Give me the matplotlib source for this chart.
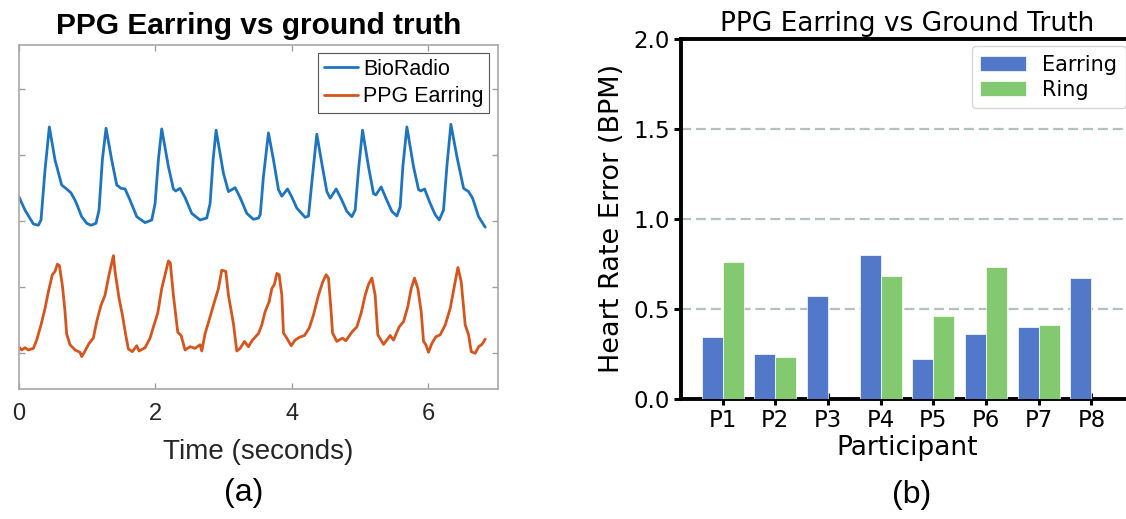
import matplotlib
matplotlib.use("Agg")
import matplotlib.pyplot as plt
import numpy as np

# ---------------- Panel (a) data: waveforms ----------------
bio_t = [0.00, 0.092, 0.215, 0.288, 0.327, 0.386, 0.449, 0.532, 0.630, 0.703, 0.767, 0.835,
         0.923, 0.997, 1.060, 1.133, 1.177, 1.226, 1.280, 1.363, 1.437, 1.500, 1.559, 1.632,
         1.730, 1.852, 1.950, 1.999, 2.047, 2.096, 2.194, 2.267, 2.302, 2.365, 2.438, 2.536,
         2.658, 2.756, 2.805, 2.849, 2.893, 3.000, 3.074, 3.172, 3.245, 3.343, 3.440, 3.514,
         3.540, 3.587, 3.660, 3.734, 3.807, 3.856, 3.939, 4.002, 4.076, 4.198, 4.247, 4.305,
         4.369, 4.442, 4.516, 4.565, 4.653, 4.736, 4.809, 4.882, 4.931, 4.980, 5.039, 5.126,
         5.200, 5.234, 5.312, 5.395, 5.469, 5.542, 5.591, 5.630, 5.689, 5.786, 5.860, 5.894,
         5.948, 6.031, 6.104, 6.163, 6.226, 6.275, 6.334, 6.422, 6.520, 6.593, 6.652, 6.740,
         6.837]
bio_y = [2.38, 2.17, 1.96, 1.94, 2.02, 2.78, 3.43, 2.93, 2.55, 2.49, 2.43, 2.30,
         2.07, 1.97, 1.94, 1.97, 2.17, 2.93, 3.41, 2.93, 2.55, 2.50, 2.49, 2.32,
         2.07, 1.98, 2.02, 2.27, 2.93, 3.40, 2.83, 2.49, 2.46, 2.50, 2.36, 2.12,
         2.02, 2.05, 2.27, 2.93, 3.38, 2.73, 2.45, 2.51, 2.36, 2.12, 2.03, 2.05,
         2.10, 2.68, 3.34, 2.93, 2.48, 2.38, 2.49, 2.37, 2.20, 2.06, 2.08, 2.68,
         3.32, 2.88, 2.45, 2.35, 2.49, 2.32, 2.15, 2.07, 2.17, 2.78, 3.38, 2.83,
         2.42, 2.40, 2.52, 2.32, 2.15, 2.08, 2.22, 2.83, 3.43, 2.83, 2.48, 2.46,
         2.49, 2.27, 2.10, 2.02, 2.17, 2.83, 3.47, 2.98, 2.50, 2.45, 2.35, 2.07,
         1.91]

ear_t = [0.000, 0.044, 0.092, 0.141, 0.215, 0.263, 0.327, 0.386, 0.434, 0.493, 0.532, 0.566,
         0.596, 0.640, 0.679, 0.703, 0.752, 0.826, 0.899, 0.923, 0.972, 1.031, 1.094, 1.143,
         1.207, 1.265, 1.324, 1.388, 1.412, 1.471, 1.520, 1.568, 1.607, 1.666, 1.730, 1.764,
         1.852, 1.925, 1.974, 2.038, 2.096, 2.145, 2.194, 2.222, 2.267, 2.331, 2.380, 2.438,
         2.512, 2.585, 2.658, 2.683, 2.732, 2.790, 2.854, 2.927, 2.976, 3.035, 3.074, 3.147,
         3.196, 3.245, 3.308, 3.367, 3.426, 3.514, 3.563, 3.611, 3.670, 3.709, 3.748, 3.783,
         3.817, 3.856, 3.880, 3.929, 3.993, 4.051, 4.110, 4.188, 4.257, 4.320, 4.393, 4.457,
         4.506, 4.540, 4.579, 4.599, 4.662, 4.745, 4.794, 4.882, 4.956, 5.019, 5.078, 5.127,
         5.176, 5.224, 5.263, 5.347, 5.444, 5.493, 5.576, 5.640, 5.703, 5.752, 5.801, 5.850,
         5.899, 5.933, 5.967, 6.006, 6.055, 6.114, 6.177, 6.251, 6.324, 6.388, 6.437, 6.485,
         6.544, 6.593, 6.632, 6.691, 6.740, 6.789, 6.837]
ear_y = [0.10, 0.05, 0.085, 0.05, 0.075, 0.20, 0.43, 0.68, 0.93, 1.19, 1.24, 1.35,
         1.33, 1.03, 0.63, 0.29, 0.13, 0.05, 0.015, -0.05, 0.035, 0.15, 0.23, 0.48,
         0.73, 0.88, 1.19, 1.48, 1.24, 0.83, 0.58, 0.28, 0.065, 0.025, 0.115, 0.035,
         0.085, 0.23, 0.40, 0.61, 0.98, 1.19, 1.40, 1.37, 0.88, 0.32, 0.27, 0.05,
         0.10, 0.075, 0.13, 0.035, 0.30, 0.50, 0.73, 0.98, 1.26, 1.24, 0.88, 0.45,
         0.035, 0.075, 0.18, 0.10, 0.20, 0.30, 0.43, 0.63, 0.78, 0.98, 1.045, 1.21,
         1.19, 0.88, 0.31, 0.23, 0.115, 0.20, 0.24, 0.27, 0.38, 0.58, 0.88, 1.085,
         1.19, 1.14, 0.63, 0.31, 0.18, 0.23, 0.19, 0.32, 0.40, 0.61, 0.88, 1.045,
         1.14, 0.88, 0.28, 0.135, 0.27, 0.20, 0.40, 0.48, 0.71, 0.98, 1.14, 0.98,
         0.63, 0.18, 0.13, 0.015, 0.15, 0.25, 0.28, 0.43, 0.68, 1.035, 1.30, 1.085,
         0.43, 0.28, 0.025, 0.00, 0.10, 0.135, 0.215]

series_a = ["BioRadio", "PPG Earring"]
xticks_a = [0, 2, 4, 6]

# ---------------- Panel (b) data ----------------
participants = ["P1", "P2", "P3", "P4", "P5", "P6", "P7", "P8"]
earring_err = [0.34, 0.25, 0.57, 0.80, 0.22, 0.36, 0.40, 0.67]
ring_err = [0.76, 0.23, 0.0, 0.68, 0.46, 0.73, 0.41, 0.0]
series_b = ["Earring", "Ring"]

W, H = 1126, 519
fig = plt.figure(figsize=(W / 100, H / 100), dpi=100)

# ================= Panel (a) =================
LS = "Liberation Sans"
ax1 = fig.add_axes([18.7 / W, 1 - 389 / H, 479 / W, 344.3 / H])
ax1.plot(bio_t, bio_y, color="#1f74c0", lw=2.0, label=series_a[0],
         solid_joinstyle="round", solid_capstyle="round")
ax1.plot(ear_t, ear_y, color="#d4561e", lw=2.0, label=series_a[1],
         solid_joinstyle="round", solid_capstyle="round")
ax1.set_xlim(0, 7.02)
ax1.set_ylim(-0.541, 4.676)
ax1.set_xticks(xticks_a)
ax1.set_xticklabels([str(v) for v in xticks_a], fontfamily=LS, fontsize=17, color="#262626")
ax1.set_yticks([0, 1, 2, 3, 4])
ax1.set_yticklabels([])
ax1.tick_params(direction="in", length=4, width=1, color="#a0a0a0",
                top=True, right=True, pad=10)
for sp in ax1.spines.values():
    sp.set_color("#a8a8a8")
    sp.set_linewidth(1.2)
ax1.set_xlabel("Time (seconds)", fontfamily=LS, fontsize=20, color="#262626", labelpad=10)
ax1.set_title("PPG Earring vs ground truth", fontfamily=LS, fontsize=21.5,
              fontweight="bold", pad=8)
leg1 = ax1.legend(loc="upper right", bbox_to_anchor=(0.9825, 0.975), borderaxespad=0,
                  prop={"family": LS, "size": 15.5}, handlelength=1.6, handletextpad=0.25,
                  borderpad=0.25, labelspacing=0.3, fancybox=False, framealpha=1)
leg1.get_frame().set_edgecolor("#555555")
leg1.get_frame().set_linewidth(0.8)

fig.text(244 / W, 1 - 493 / H, "(a)", fontfamily=LS, fontsize=23, ha="center", va="center")

# ================= Panel (b) =================
ax2 = fig.add_axes([681 / W, 1 - 398.5 / H, 452 / W, 359.5 / H])
x = np.arange(len(participants))
bw = 0.4
ax2.bar(x - bw / 2, earring_err, bw, color="#5178c9", edgecolor="white", linewidth=0.5,
        label=series_b[0], zorder=3)
ax2.bar(x + bw / 2, ring_err, bw, color="#82c96f", edgecolor="white", linewidth=0.5,
        label=series_b[1], zorder=3)
ax2.set_ylim(0, 2.0)
ax2.set_yticks([0.0, 0.5, 1.0, 1.5, 2.0])
ax2.set_xticks(x)
ax2.set_xticklabels(participants)
ax2.yaxis.grid(True, color="#b5c0c0", lw=1.6, linestyle=(0, (4.5, 2.2)), zorder=0)
ax2.set_axisbelow(True)
for sp in ax2.spines.values():
    sp.set_linewidth(2.8)
    sp.set_color("black")
ax2.tick_params(axis="x", direction="inout", length=9, width=2.2, labelsize=16.5, pad=3)
ax2.tick_params(axis="y", direction="out", length=5, width=2.2, labelsize=16.5, pad=3)
ax2.set_xlabel("Participant", fontsize=19, labelpad=2)
ax2.set_ylabel("Heart Rate Error (BPM)", fontsize=19.5, labelpad=6)
ax2.set_title("PPG Earring vs Ground Truth", fontsize=19, pad=6)
leg2 = ax2.legend(loc="upper right", fontsize=15, labelspacing=0.25, handlelength=2.2,
                  borderaxespad=0.35)
fig.text(912 / W, 1 - 495 / H, "(b)", fontfamily=LS, fontsize=23, ha="center", va="center")

fig.savefig("out.png", dpi=100)
